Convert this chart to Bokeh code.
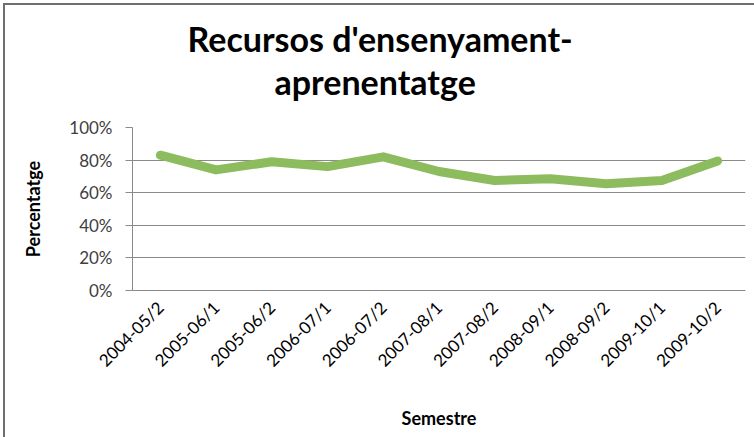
import math
from bokeh.plotting import figure
from bokeh.models import (Range1d, FactorRange, FixedTicker, NumeralTickFormatter,
                          Title, ColumnDataSource)
from bokeh.embed import file_html
from bokeh.resources import INLINE

semesters = ["2004-05/2", "2005-06/1", "2005-06/2", "2006-07/1", "2006-07/2",
             "2007-08/1", "2007-08/2", "2008-09/1", "2008-09/2", "2009-10/1", "2009-10/2"]
percentages = [0.83, 0.74, 0.79, 0.76, 0.82, 0.73, 0.675, 0.685, 0.655, 0.675, 0.795]
y_ticks = [0, 0.2, 0.4, 0.6, 0.8, 1.0]
title_lines = ["Recursos d'ensenyament-", "aprenentatge"]

FONT = "Lato"
GREEN = "#8CBC5E"
GRID = "#8a8a8a"
EDGE = "#6f6f6f"

p = figure(width=754, height=437, output_backend="svg", toolbar_location=None,
           x_range=FactorRange(*semesters, range_padding=0),
           y_range=Range1d(0, 1),
           min_border_left=132, min_border_right=9, min_border_top=127, min_border_bottom=147)
# chart-area border (left and top edges) painted behind a transparent canvas border
p.styles = {"background": (f"linear-gradient({EDGE},{EDGE}) 3px 3px / 2px 100% no-repeat, "
                           f"linear-gradient({EDGE},{EDGE}) 3px 3px / 100% 2px no-repeat, white")}
p.outline_line_color = None
p.background_fill_color = "white"
p.border_fill_color = None

src = ColumnDataSource(dict(x=semesters, y=percentages))
p.line("x", "y", source=src, line_color=GREEN, line_width=9,
       line_cap="round", line_join="round")

# grid
p.xgrid.grid_line_color = None
p.ygrid.grid_line_color = GRID
p.ygrid.grid_line_width = 1

# y axis
p.yaxis.ticker = FixedTicker(ticks=y_ticks)
p.yaxis.formatter = NumeralTickFormatter(format="0%")
p.yaxis.axis_line_color = GRID
p.yaxis.major_tick_line_color = GRID
p.yaxis.major_tick_out = 7
p.yaxis.major_tick_in = 0
p.yaxis.minor_tick_line_color = None
p.yaxis.major_label_text_font = FONT
p.yaxis.major_label_text_font_size = "17px"
p.yaxis.major_label_text_color = "#404040"
p.yaxis.major_label_standoff = 13
p.yaxis.axis_label = "Percentatge"
p.yaxis.axis_label_text_font = FONT
p.yaxis.axis_label_text_font_style = "bold"
p.yaxis.axis_label_text_font_size = "18px"
p.yaxis.axis_label_text_color = "black"
p.yaxis.axis_label_standoff = 22

# x axis
p.xaxis.axis_line_color = GRID
p.xaxis.major_tick_line_color = None
p.xaxis.major_tick_out = 0
p.xaxis.major_tick_in = 0
p.xaxis.minor_tick_line_color = None
p.xaxis.major_label_orientation = math.pi / 4
p.xaxis.major_label_text_font = FONT
p.xaxis.major_label_text_font_size = "17px"
p.xaxis.major_label_text_color = "black"
p.xaxis.major_label_standoff = 14
p.xaxis.axis_label = "Semestre"
p.xaxis.axis_label_text_font = FONT
p.xaxis.axis_label_text_font_style = "bold"
p.xaxis.axis_label_text_font_size = "18px"
p.xaxis.axis_label_text_color = "black"
p.xaxis.axis_label_standoff = 26

# title: spacer next to the frame, then line 2, then line 1 (outermost)
p.title = None
p.add_layout(Title(text=" ", text_font_size="10px", standoff=13), "above")
p.add_layout(Title(text=title_lines[1], align="left", offset=142, standoff=0,
                   text_font=FONT, text_font_style="bold", text_font_size="34px",
                   text_color="black"), "above")
p.add_layout(Title(text=title_lines[0], align="left", offset=55, standoff=0,
                   text_font=FONT, text_font_style="bold", text_font_size="34px",
                   text_color="black"), "above")

open("out.html", "w").write(file_html(p, INLINE))
